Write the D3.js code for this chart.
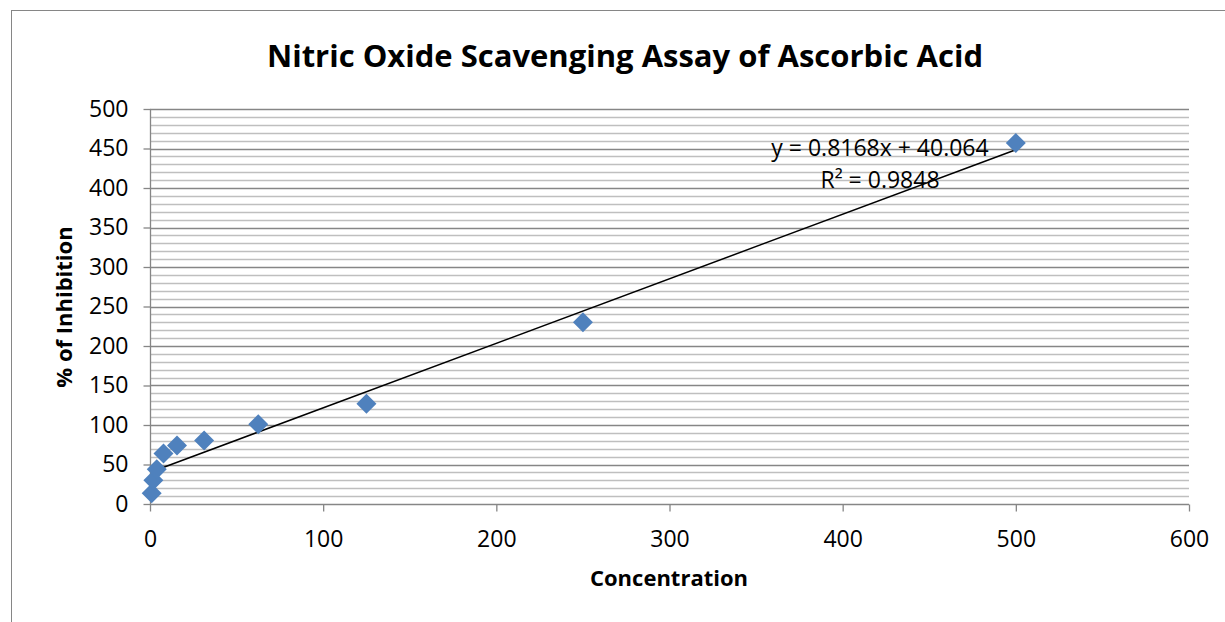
<!DOCTYPE html>
<html>
<head>
<meta charset="utf-8">
<script src="https://cdn.jsdelivr.net/npm/d3@7"></script>
<style>
  body { margin: 0; background: #fff; }
  text { font-family: "Open Sans", sans-serif; fill: #000; }
</style>
</head>
<body>
<svg id="chart" width="1225" height="622"></svg>
<script>
// data
var concentration = [0.98, 1.95, 3.9, 7.8, 15.6, 31.25, 62.5, 125, 250, 500];
var inhibition = [13.5, 30, 44, 64, 74, 80.5, 101, 127, 230, 457];
var xTicks = [0, 100, 200, 300, 400, 500, 600];
var yTicks = [0, 50, 100, 150, 200, 250, 300, 350, 400, 450, 500];
var slope = 0.8168, intercept = 40.064;
var eqLabel = "y = 0.8168x + 40.064";
var r2Label = "R\u00b2 = 0.9848";

var svg = d3.select("#chart");

// chart border
svg.append("rect")
  .attr("x", 11.5).attr("y", 10.5)
  .attr("width", 1300).attr("height", 700)
  .attr("fill", "none").attr("stroke", "#868686");

var x = d3.scaleLinear().domain([0, 600]).range([150, 1189]);
var y = d3.scaleLinear().domain([0, 500]).range([504, 109]);

// minor gridlines every 10
var minor = d3.range(10, 500, 10).filter(v => v % 50 != 0);
svg.append("g").selectAll("line")
  .data(minor)
  .enter().append("line")
  .attr("x1", x(0)).attr("x2", x(600))
  .attr("y1", d => Math.round(y(d)) + 0.5).attr("y2", d => Math.round(y(d)) + 0.5)
  .attr("stroke", "#bfbfbf").attr("stroke-width", 1.3);

// major gridlines
svg.append("g").selectAll("line")
  .data(yTicks.filter(d => d > 0))
  .enter().append("line")
  .attr("x1", x(0)).attr("x2", x(600))
  .attr("y1", d => Math.round(y(d)) + 0.5).attr("y2", d => Math.round(y(d)) + 0.5)
  .attr("stroke", "#868686").attr("stroke-width", 1.3);

// axes
var yAxis = svg.append("g")
  .attr("transform", "translate(" + (x(0) + 0.5) + ",0)")
  .call(d3.axisLeft(y).tickValues(yTicks).tickSize(7).tickPadding(14));
var xAxis = svg.append("g")
  .attr("transform", "translate(0," + (Math.round(y(0)) + 0.5) + ")")
  .call(d3.axisBottom(x).tickValues(xTicks).tickSize(7).tickPadding(14));

[xAxis, yAxis].forEach(function(a) {
  a.attr("font-family", null).attr("font-size", null);
  a.select(".domain").attr("stroke", "#868686").attr("stroke-width", 1.3);
  a.selectAll(".tick line").attr("stroke", "#868686").attr("stroke-width", 1.3);
  a.selectAll(".tick text").style("font-size", "23px").attr("fill", "#000");
});
xAxis.selectAll(".tick text").attr("y", 26).attr("dy", "0.71em");
yAxis.selectAll(".tick text").attr("x", -22);
xAxis.select(".domain").attr("d", "M" + x(0) + ",0H" + x(600));
yAxis.select(".domain").attr("d", "M0," + y(0) + "V" + y(500));

// trendline
var xMin = d3.min(concentration), xMax = d3.max(concentration);
svg.append("line")
  .attr("x1", x(xMin)).attr("y1", y(slope * xMin + intercept))
  .attr("x2", x(xMax)).attr("y2", y(slope * xMax + intercept))
  .attr("stroke", "#000").attr("stroke-width", 1.5);

// diamond markers
svg.append("g").selectAll("path")
  .data(concentration)
  .enter().append("path")
  .attr("d", "M0,-10L10,0L0,10L-10,0Z")
  .attr("transform", (d, i) => "translate(" + x(d) + "," + y(inhibition[i]) + ")")
  .attr("fill", "#4f81bd");

// equation label
svg.append("text")
  .attr("x", 880).attr("y", 156)
  .attr("text-anchor", "middle")
  .style("font-size", "23px")
  .text(eqLabel);
svg.append("text")
  .attr("x", 880).attr("y", 188)
  .attr("text-anchor", "middle")
  .style("font-size", "23px")
  .text(r2Label);

// titles
svg.append("text")
  .attr("x", 625).attr("y", 67)
  .attr("text-anchor", "middle")
  .style("font-size", "31px").style("font-weight", "bold")
  .text("Nitric Oxide Scavenging Assay of Ascorbic Acid");

svg.append("text")
  .attr("x", 669).attr("y", 586)
  .attr("text-anchor", "middle")
  .style("font-size", "22px").style("font-weight", "bold")
  .text("Concentration");

svg.append("text")
  .attr("transform", "translate(72,307) rotate(-90)")
  .attr("text-anchor", "middle")
  .style("font-size", "22px").style("font-weight", "bold")
  .text("% of Inhibition");
</script>
</body>
</html>
